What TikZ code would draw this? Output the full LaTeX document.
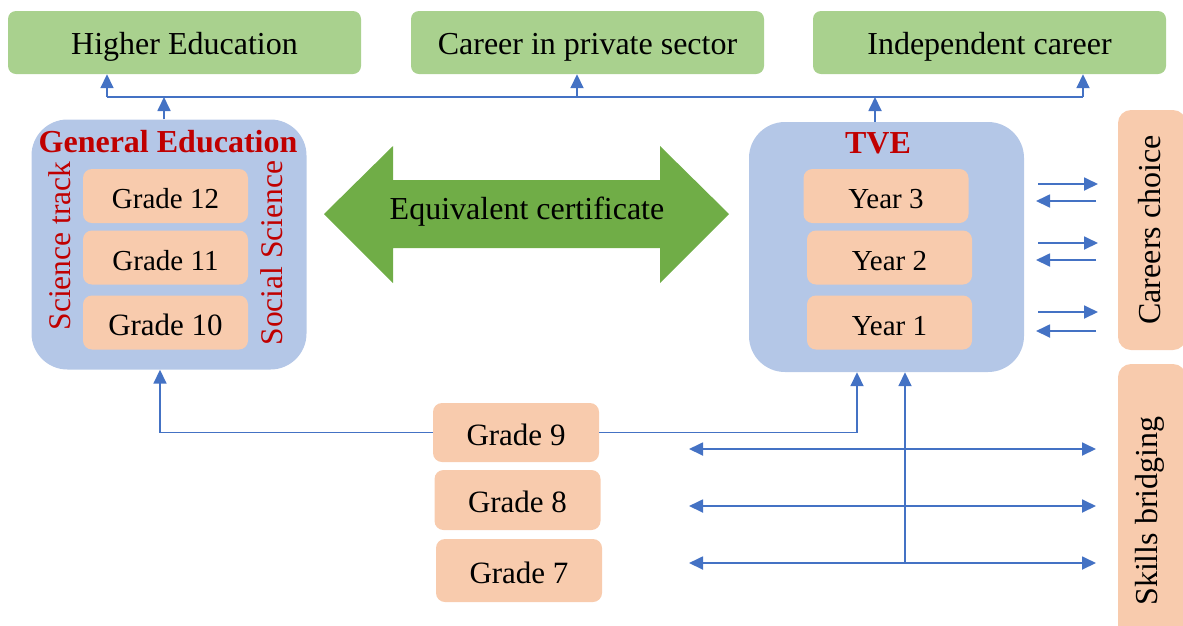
\documentclass[tikz,border=0pt]{standalone}
\usepackage{fontspec}
\setmainfont{Liberation Serif}
\newfontfamily\tnr{Liberation Serif}
\usetikzlibrary{arrows.meta}
\definecolor{lgreen}{HTML}{A9D18E}
\definecolor{dgreen}{HTML}{70AD47}
\definecolor{lblue}{HTML}{B4C7E7}
\definecolor{peach}{HTML}{F8CBAD}
\definecolor{lineblue}{HTML}{4472C4}
\definecolor{dred}{HTML}{C00000}
\tikzset{
  every node/.style={font=\tnr},
  topbox/.style={fill=lgreen, rounded corners=8pt, minimum width=353pt, minimum height=63pt, inner sep=0pt, text height=23pt, text depth=0pt, font=\tnr\fontsize{32}{36}\selectfont},
  grp/.style={fill=lblue, rounded corners=36pt, minimum width=275pt, minimum height=250pt, inner sep=0pt},
  gradebox/.style={fill=peach, rounded corners=9pt, minimum width=165pt, minimum height=54pt, inner sep=0pt, text height=25pt, text depth=0pt, font=\tnr\fontsize{29}{34}\selectfont},
  lowbox/.style={fill=peach, rounded corners=9pt, minimum width=166pt, minimum height=60pt, inner sep=0pt, text height=25pt, text depth=0pt, font=\tnr\fontsize{31}{36}\selectfont},
  sidebox/.style={fill=peach, rounded corners=13pt, minimum width=68pt, inner sep=0pt},
  redtitle/.style={text=dred, font=\tnr\fontsize{32}{36}\selectfont\bfseries},
  redside/.style={text=dred, font=\tnr\fontsize{31.5}{36}\selectfont, rotate=90},
  sidetext/.style={font=\tnr\fontsize{32}{36}\selectfont, rotate=90},
  conn/.style={draw=lineblue, line width=1.8pt},
  arr/.style={conn, -{Triangle[length=14pt,width=13pt]}},
  darr/.style={conn, {Triangle[length=14pt,width=13pt]}-{Triangle[length=14pt,width=13pt]}},
}
\begin{document}
\begin{tikzpicture}[x=1pt,y=-1pt]
\useasboundingbox (0,0) rectangle (1183,625);
\clip (0,0) rectangle (1183,625);

% top boxes
\node[topbox] (he) at (184.5,42.5) {Higher Education};
\node[topbox] (cp) at (587.5,42.5) {Career in private sector};
\node[topbox] (ic) at (989.5,42.5) {Independent career};

% group boxes
\node[grp] (ge) at (169,244.5) {};
\node[grp] (tve) at (886.5,247) {};
\node[redtitle] (getitle) at (168,142) {General Education};
\node[redtitle] (tvetitle) at (878,143) {TVE};
\node[redside] (sci) at (60,246) {Science track};
\node[redside] (soc) at (272,253) {Social Science};

\node[gradebox] (g12) at (165.5,196) {Grade 12};
\node[gradebox] (g11) at (165.5,257.5) {Grade 11};
\node[gradebox, font=\tnr\fontsize{31}{36}\selectfont] (g10) at (165.5,322.5) {Grade 10};

\node[gradebox] (y3) at (886,196) {Year 3};
\node[gradebox] (y2) at (889.5,257.5) {Year 2};
\node[gradebox] (y1) at (889.5,322.5) {Year 1};

% lower grades
\node[lowbox, minimum height=59pt] (g9) at (516,432.5) {Grade 9};
\node[lowbox] (g8) at (517.5,500) {Grade 8};
\node[lowbox, minimum height=63pt] (g7) at (519,570.5) {Grade 7};

% side boxes
\node[sidebox, minimum height=240pt] (cc) at (1152,230) {};
\node[sidetext] (cctext) at (1150,230) {Careers choice};
\node[sidebox, minimum height=280pt] (sb) at (1152,504) {};
\node[sidetext] (sbtext) at (1150,511) {Skills bridging};

% equivalent certificate double arrow
\fill[dgreen] (324,214) -- (393,146) -- (393,180) -- (660,180) -- (660,146)
  -- (729,214) -- (660,283) -- (660,248) -- (393,248) -- (393,283) -- cycle;
\node[font=\tnr\fontsize{32}{36}\selectfont, text height=23pt, text depth=0pt] (eq) at (527,208) {Equivalent certificate};

% top connectors
\coordinate (J1) at (107,97);
\coordinate (J2) at (1083,97);
\coordinate (J3) at (577,97);
\draw[conn] (J1) -- (J2);
\draw[arr] (J1) -- (J1 |- he.south);
\draw[arr] (J2) -- (J2 |- ic.south);
\draw[arr] (J3) -- (J3 |- cp.south);
\draw[arr] ([xshift=-5pt]ge.north) -- ([xshift=-5pt]ge.north |- J1);
\draw[arr] ([xshift=-11.5pt]tve.north) -- ([xshift=-11.5pt]tve.north |- J1);

% bottom connectors
\draw[arr] (g9.west) -| ([xshift=-9pt]ge.south);
\draw[arr] (g9.east) -| ([xshift=-29.5pt]tve.south);
\coordinate (V) at (905,563);
\draw[arr] (V) -- (V |- tve.south);
\foreach \y/\n in {449/a,506/b,563/c}{
  \coordinate (L\n) at (689,\y);
  \coordinate (R\n) at (1096,\y);
  \draw[darr] (L\n) -- (R\n);
}

% career choice arrows
\foreach \y/\n in {184/a,243/b,312/c}{
  \coordinate (P\n) at (1038,\y);
  \coordinate (Q\n) at (1098,\y);
  \draw[arr] (P\n) -- (Q\n);
}
\foreach \y/\n in {201/a,260/b,331/c}{
  \coordinate (S\n) at (1096,\y);
  \coordinate (T\n) at (1036,\y);
  \draw[arr] (S\n) -- (T\n);
}
\end{tikzpicture}
\end{document}
